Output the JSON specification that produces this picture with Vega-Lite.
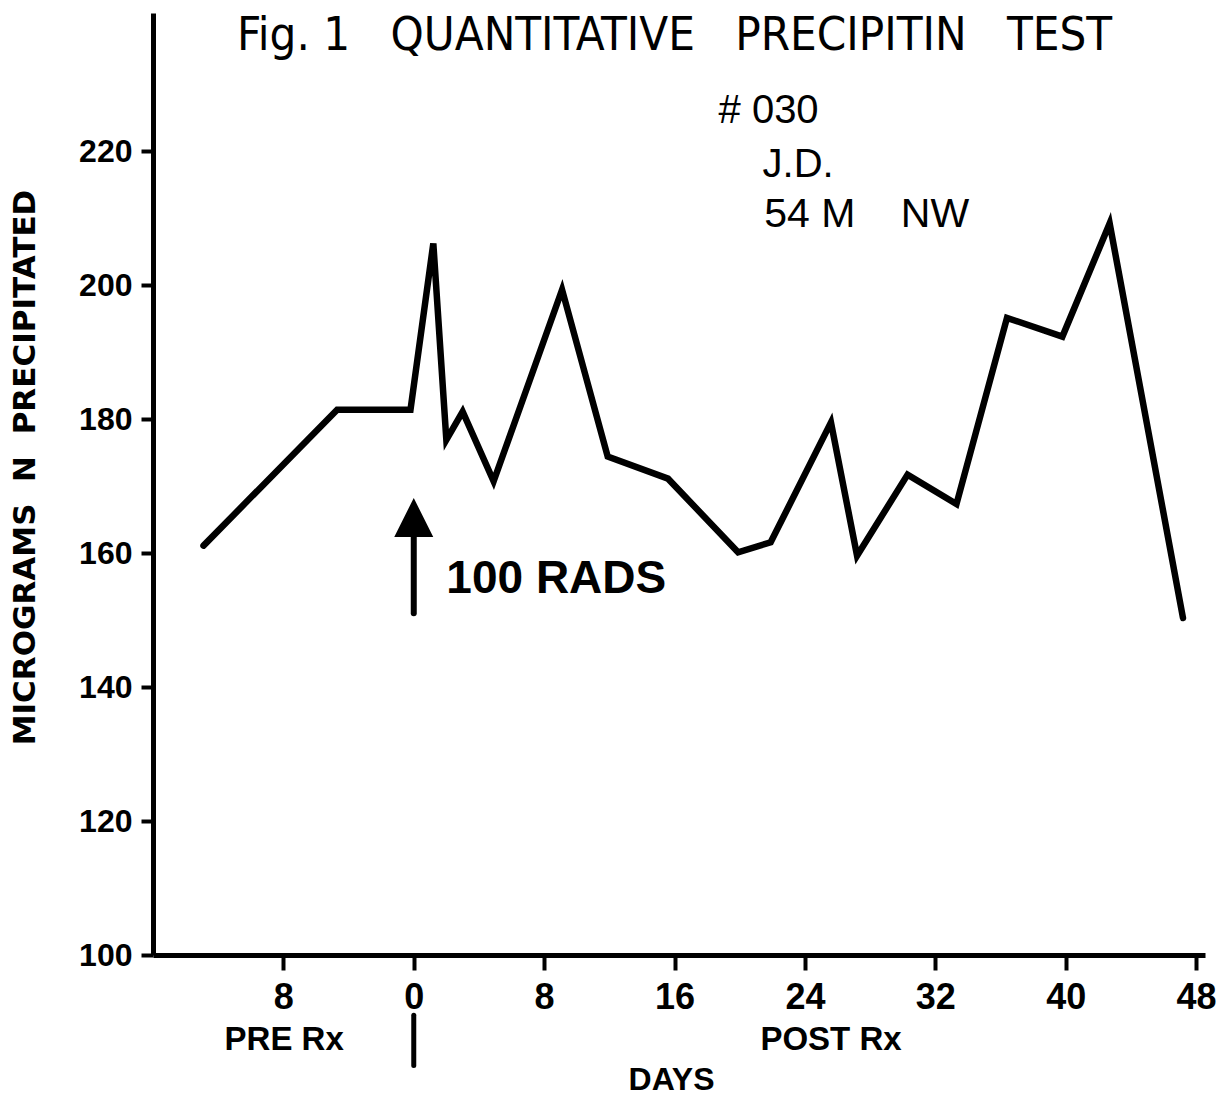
{
  "$schema": "https://vega.github.io/schema/vega-lite/v6.json",
  "width": 1052,
  "height": 942,
  "autosize": {"type": "none"},
  "padding": {"left": 153, "top": 13, "right": 19, "bottom": 143},
  "background": "white",
  "config": {"view": {"stroke": null}},
  "layer": [
    {
      "data": {"values": [
        {"day": -12.9, "n": 161.1},
        {"day": -4.7, "n": 181.4},
        {"day": -0.2, "n": 181.4},
        {"day": 1.2, "n": 206.2},
        {"day": 2.0, "n": 176.9},
        {"day": 3.0, "n": 181.1},
        {"day": 4.9, "n": 170.7},
        {"day": 9.1, "n": 199.3},
        {"day": 11.9, "n": 174.4},
        {"day": 15.6, "n": 171.1},
        {"day": 19.9, "n": 160.1},
        {"day": 21.9, "n": 161.6},
        {"day": 25.6, "n": 179.5},
        {"day": 27.2, "n": 159.6},
        {"day": 30.3, "n": 171.7},
        {"day": 33.3, "n": 167.3},
        {"day": 36.4, "n": 195.1},
        {"day": 39.8, "n": 192.3},
        {"day": 42.7, "n": 209.2},
        {"day": 47.2, "n": 150.3}
      ]},
      "mark": {"type": "line", "color": "black", "strokeWidth": 6.5, "strokeCap": "round", "strokeJoin": "miter"},
      "encoding": {
        "x": {
          "field": "day", "type": "quantitative",
          "scale": {"domain": [-16.0, 48.55], "nice": false, "zero": false},
          "axis": {
            "title": "DAYS",
            "values": [-8, 0, 8, 16, 24, 32, 40, 48],
            "labelExpr": "'' + abs(datum.value)",
            "grid": false,
            "domainColor": "black", "domainWidth": 5,
            "tickColor": "black", "tickWidth": 4, "tickSize": 15,
            "labelPadding": 10, "labelFont": "Liberation Sans", "labelFontWeight": "bold", "labelFontSize": 36, "labelColor": "black",
            "labelFlush": false, "labelOverlap": false,
            "titleFont": "Liberation Sans", "titleFontWeight": "bold", "titleFontSize": 32, "titleColor": "black",
            "titleX": 518, "titleY": 134, "titleAlign": "center", "titleBaseline": "alphabetic"
          }
        },
        "y": {
          "field": "n", "type": "quantitative",
          "scale": {"domain": [100, 240.6], "nice": false, "zero": false},
          "axis": {
            "title": "MICROGRAMS\u00a0\u00a0N\u00a0\u00a0PRECIPITATED",
            "values": [100, 120, 140, 160, 180, 200, 220],
            "grid": false,
            "domainColor": "black", "domainWidth": 5,
            "tickColor": "black", "tickWidth": 4, "tickSize": 12,
            "labelPadding": 9, "labelFont": "Liberation Sans", "labelFontWeight": "bold", "labelFontSize": 32, "labelColor": "black",
            "labelFlush": false, "labelOverlap": false,
            "titleFont": "DejaVu Sans", "titleFontWeight": "bold", "titleFontSize": 31, "titleColor": "black",
            "titleX": -128, "titleY": 454, "titleAngle": -90, "titleAlign": "center", "titleBaseline": "middle"
          }
        }
      }
    },
    {
      "data": {"values": [{"label": "Fig.\u00a01\u00a0\u00a0\u00a0QUANTITATIVE\u00a0\u00a0\u00a0PRECIPITIN\u00a0\u00a0\u00a0TEST"}]},
      "mark": {"type": "text", "font": "DejaVu Sans Condensed", "fontSize": 47, "align": "center", "baseline": "alphabetic", "color": "black"},
      "encoding": {"x": {"datum": 16}, "y": {"datum": 235.1}, "text": {"field": "label"}}
    },
    {
      "data": {"values": [{"label": "#\u00a0030"}]},
      "mark": {"type": "text", "font": "Liberation Sans", "fontSize": 40, "align": "left", "baseline": "alphabetic", "color": "black"},
      "encoding": {"x": {"datum": 18.7}, "y": {"datum": 224.2}, "text": {"field": "label"}}
    },
    {
      "data": {"values": [{"label": "J.D."}]},
      "mark": {"type": "text", "font": "Liberation Sans", "fontSize": 40, "align": "left", "baseline": "alphabetic", "color": "black"},
      "encoding": {"x": {"datum": 21.4}, "y": {"datum": 216.1}, "text": {"field": "label"}}
    },
    {
      "data": {"values": [{"label": "54\u00a0M\u00a0\u00a0\u00a0\u00a0NW"}]},
      "mark": {"type": "text", "font": "Liberation Sans", "fontSize": 41, "align": "left", "baseline": "alphabetic", "color": "black"},
      "encoding": {"x": {"datum": 21.5}, "y": {"datum": 208.7}, "text": {"field": "label"}}
    },
    {
      "data": {"values": [{"label": "100 RADS"}]},
      "mark": {"type": "text", "font": "Liberation Sans", "fontWeight": "bold", "fontSize": 46, "align": "left", "baseline": "alphabetic", "color": "black"},
      "encoding": {"x": {"datum": 2.0}, "y": {"datum": 154.0}, "text": {"field": "label"}}
    },
    {
      "data": {"values": [{"label": "arrow"}]},
      "mark": {"type": "rule", "color": "black", "strokeWidth": 6, "strokeCap": "round"},
      "encoding": {"x": {"datum": 0}, "y": {"datum": 151.0}, "y2": {"datum": 164.0}}
    },
    {
      "data": {"values": [{"label": "arrowhead"}]},
      "mark": {"type": "point", "shape": "M0,-1L1,1L-1,1Z", "filled": true, "color": "black", "opacity": 1, "size": 1521},
      "encoding": {"x": {"datum": 0}, "y": {"datum": 165.3}}
    },
    {
      "data": {"values": [{"label": "PRE Rx"}]},
      "mark": {"type": "text", "font": "Liberation Sans", "fontWeight": "bold", "fontSize": 33, "align": "center", "baseline": "alphabetic", "color": "black"},
      "encoding": {"x": {"datum": -7.95}, "y": {"datum": 85.8}, "text": {"field": "label"}}
    },
    {
      "data": {"values": [{"label": "POST Rx"}]},
      "mark": {"type": "text", "font": "Liberation Sans", "fontWeight": "bold", "fontSize": 33, "align": "center", "baseline": "alphabetic", "color": "black"},
      "encoding": {"x": {"datum": 25.6}, "y": {"datum": 85.8}, "text": {"field": "label"}}
    },
    {
      "data": {"values": [{"label": "divider"}]},
      "mark": {"type": "rule", "color": "black", "strokeWidth": 5, "strokeCap": "round", "clip": false},
      "encoding": {"x": {"datum": 0}, "y": {"datum": 91.0}, "y2": {"datum": 83.5}}
    }
  ]
}
